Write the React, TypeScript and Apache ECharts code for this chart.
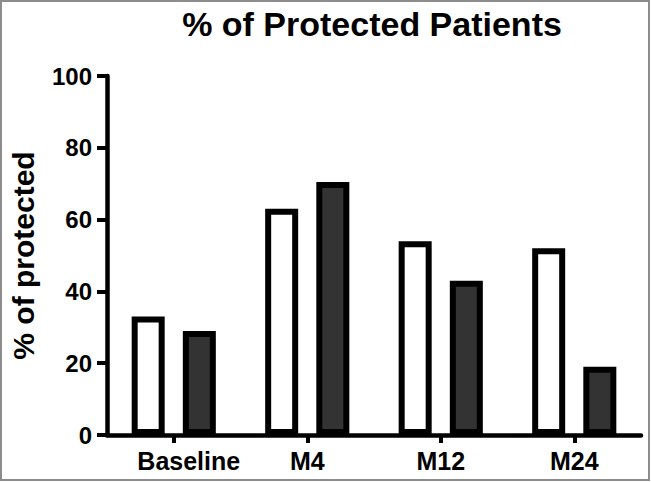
import React, { useEffect, useRef } from "react";
import * as echarts from "echarts";

const categories = ["Baseline", "M4", "M12", "M24"];
const seriesOpen = [33, 63, 54, 52];
const seriesFilled = [29, 70.5, 43, 19];
const yTicks = [0, 20, 40, 60, 80, 100];
const titleText = "% of Protected Patients";
const yAxisName = "% of protected";

const FONT = "'Liberation Sans', Arial, Helvetica, sans-serif";

export default function App() {
  const ref = useRef<HTMLDivElement>(null);

  useEffect(() => {
    if (!ref.current) return;
    const chart = echarts.init(ref.current, undefined, { renderer: "svg" });
    const option: any = {
      animation: false,
      backgroundColor: "#ffffff",
      grid: { left: 103, right: 10, top: 76, bottom: 47, containLabel: false },
      graphic: [
        {
          type: "rect",
          shape: { x: 1, y: 1, width: 648, height: 479 },
          style: { fill: "none", stroke: "#8c8c8c", lineWidth: 2 },
          silent: true,
        },
        {
          type: "text",
          x: 372,
          y: 24,
          style: {
            text: titleText,
            fontFamily: FONT,
            fontWeight: "bold",
            fontSize: 34,
            fill: "#000",
            textAlign: "center",
            textVerticalAlign: "middle",
          },
        },
      ],
      xAxis: {
        type: "category",
        data: categories.map((c, i) =>
          i === 0 ? { value: c, textStyle: { padding: [0, 0, 0, 30] } } : c
        ),
        axisLine: { show: true, lineStyle: { color: "#000", width: 4.5 } },
        axisTick: {
          show: true,
          interval: 0,
          alignWithLabel: true,
          length: 8,
          lineStyle: { color: "#000", width: 4 },
        },
        axisLabel: {
          interval: 0,
          hideOverlap: false,
          color: "#000",
          fontFamily: FONT,
          fontWeight: "bold",
          fontSize: 25,
          margin: 13,
        },
        splitLine: { show: false },
      },
      yAxis: {
        type: "value",
        min: 0,
        max: 100,
        interval: 20,
        name: yAxisName,
        nameLocation: "middle",
        nameRotate: 90,
        nameGap: 69,
        nameTextStyle: {
          color: "#000",
          fontFamily: FONT,
          fontWeight: "bold",
          fontSize: 30,
        },
        axisLine: { show: true, lineStyle: { color: "#000", width: 4.5 } },
        axisTick: { show: true, length: 10, lineStyle: { color: "#000", width: 4 } },
        axisLabel: {
          color: "#000",
          fontFamily: FONT,
          fontWeight: "bold",
          fontSize: 24,
          margin: 15,
          formatter: (v: number) => (yTicks.includes(v) ? String(v) : ""),
        },
        splitLine: { show: false },
      },
      series: [
        {
          type: "bar",
          data: seriesOpen,
          barWidth: 33,
          barGap: "55%",
          itemStyle: { color: "#ffffff", borderColor: "#000", borderWidth: 6 },
        },
        {
          type: "bar",
          data: seriesFilled,
          barWidth: 33,
          barGap: "55%",
          itemStyle: { color: "#333333", borderColor: "#000", borderWidth: 6 },
        },
      ],
    };
    chart.setOption(option);
    return () => chart.dispose();
  }, []);

  return (
    <div
      ref={ref}
      style={{ position: "fixed", left: 0, top: 0, width: 651, height: 482, background: "#fff" }}
    />
  );
}
